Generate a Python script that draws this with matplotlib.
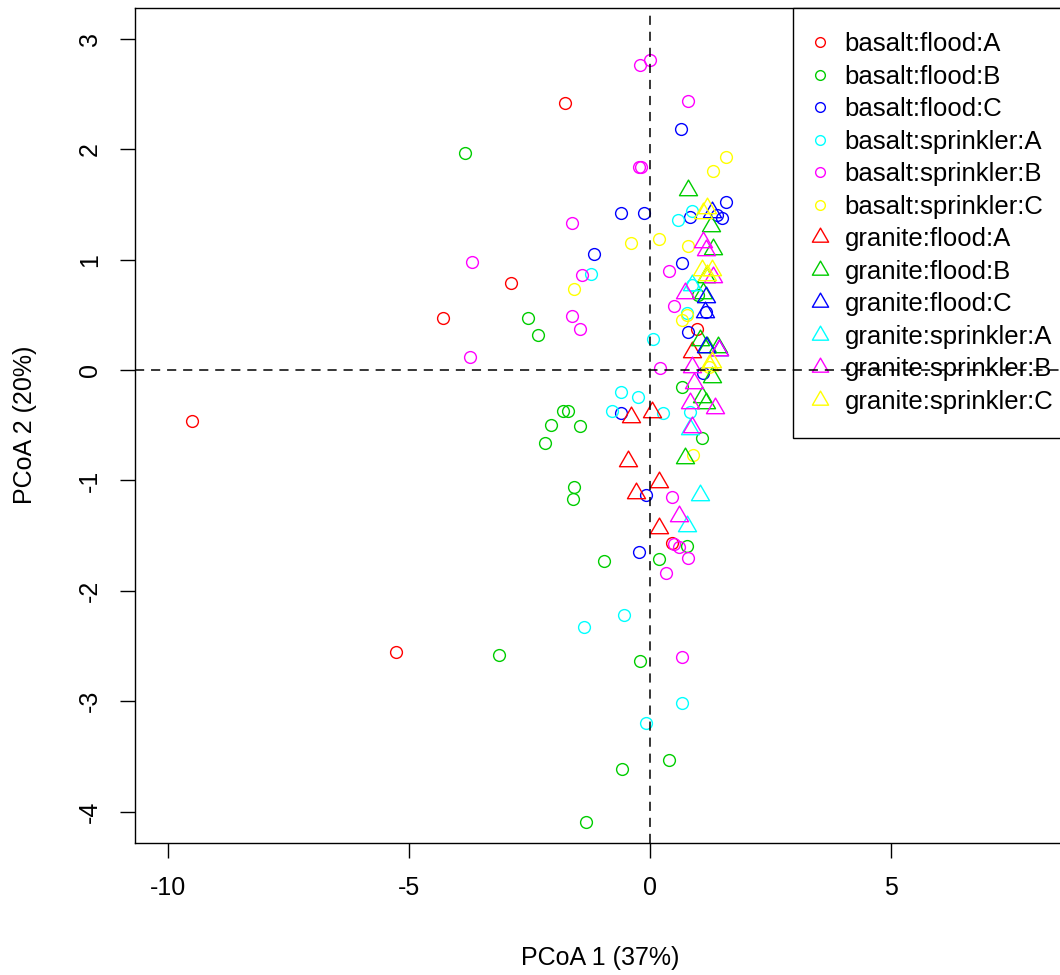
import matplotlib
matplotlib.use("Agg")
import matplotlib.pyplot as plt
from matplotlib.path import Path
from matplotlib.lines import Line2D

plt.rcParams['font.family'] = ['Liberation Sans', 'DejaVu Sans']
plt.rcParams['axes.unicode_minus'] = False

# PCoA scores per group
groups = ["basalt:flood:A", "basalt:flood:B", "basalt:flood:C",
          "basalt:sprinkler:A", "basalt:sprinkler:B", "basalt:sprinkler:C",
          "granite:flood:A", "granite:flood:B", "granite:flood:C",
          "granite:sprinkler:A", "granite:sprinkler:B", "granite:sprinkler:C"]
colors = ["#FF0000", "#00CD00", "#0000FF", "#00FFFF", "#FF00FF", "#FFFF00"] * 2

bf_a_x = [-1.76, -2.88, -4.29, -9.50, -5.27, 0.46, 0.98]
bf_a_y = [2.42, 0.79, 0.47, -0.46, -2.55, -1.57, 0.37]
bf_b_x = [-3.84, -2.53, -2.32, -1.80, -1.70, -2.05, -1.45, -2.18, -1.56, -1.60, -0.95,
          -3.13, -0.19, -0.58, 0.41, -1.31, 0.19, 0.77, 1.08, 0.68, 1.00]
bf_b_y = [1.97, 0.47, 0.32, -0.37, -0.37, -0.50, -0.51, -0.66, -1.06, -1.17, -1.73,
          -2.58, -2.64, -3.61, -3.53, -4.09, -1.71, -1.59, -0.62, -0.15, 0.68]
bf_c_x = [0.66, -0.60, -0.12, -1.16, 0.83, 1.58, 1.39, 1.51, 0.68, 0.79, 1.10, -0.60, -0.08, -0.23, 1.18]
bf_c_y = [2.18, 1.42, 1.42, 1.05, 1.39, 1.52, 1.40, 1.38, 0.97, 0.34, -0.03, -0.39, -1.13, -1.65, 0.53]
bs_a_x = [0.87, 0.58, -1.22, 0.08, -0.60, -0.25, -0.79, -0.54, -1.37, 0.27, 0.68, -0.08, 0.89, 0.77, 0.83]
bs_a_y = [1.44, 1.36, 0.87, 0.28, -0.20, -0.24, -0.37, -2.22, -2.33, -0.39, -3.02, -3.20, 0.77, 0.52, -0.38]
bs_b_x = [-0.19, 0.00, 0.79, -0.21, -0.18, -1.62, -3.69, -1.41, -1.62, -1.45, -3.73,
          0.41, 0.50, 0.21, 0.46, 0.50, 0.62, 0.79, 0.33, 0.68]
bs_b_y = [2.76, 2.81, 2.44, 1.84, 1.84, 1.33, 0.98, 0.86, 0.49, 0.37, 0.12,
          0.90, 0.58, 0.02, -1.15, -1.58, -1.60, -1.70, -1.84, -2.60]
bs_c_x = [1.58, 1.31, -0.39, 0.19, 0.79, -1.56, 0.68, 0.77, 0.91, 1.24]
bs_c_y = [1.93, 1.80, 1.15, 1.19, 1.12, 0.73, 0.45, 0.50, -0.77, 0.03]
gf_a_x = [-0.39, 0.04, -0.44, -0.29, 0.19, 0.19, 0.89]
gf_a_y = [-0.43, -0.38, -0.82, -1.11, -1.01, -1.43, 0.16]
gf_b_x = [0.79, 1.27, 1.31, 1.18, 1.41, 1.29, 1.08, 1.18, 0.73, 1.10, 1.04, 1.20]
gf_b_y = [1.63, 1.30, 1.10, 0.84, 0.21, -0.06, -0.24, -0.30, -0.80, 0.70, 0.27, 0.21]
gf_c_x = [1.29, 1.18, 1.14, 1.18, 1.45]
gf_c_y = [1.43, 0.66, 0.53, 0.21, 0.18]
gs_a_x = [1.04, 0.77, 0.83, 0.89]
gs_a_y = [-1.13, -1.41, -0.53, 0.77]
gs_b_x = [1.10, 1.16, 0.73, 1.31, 1.45, 0.87, 0.83, 1.35, 0.87, 0.62, 0.93]
gs_b_y = [1.16, 1.09, 0.70, 0.84, 0.18, 0.03, -0.30, -0.34, -0.52, -1.32, -0.12]
gs_c_x = [1.20, 1.10, 1.08, 1.29, 1.20, 1.29, 1.24]
gs_c_y = [1.47, 1.42, 0.91, 0.91, 0.86, 0.07, 0.05]

xs = [bf_a_x, bf_b_x, bf_c_x, bs_a_x, bs_b_x, bs_c_x, gf_a_x, gf_b_x, gf_c_x, gs_a_x, gs_b_x, gs_c_x]
ys = [bf_a_y, bf_b_y, bf_c_y, bs_a_y, bs_b_y, bs_c_y, gf_a_y, gf_b_y, gf_c_y, gs_a_y, gs_b_y, gs_c_y]

# R-style triangle (pch 2), centred on the circumcentre
tri = Path([(0, 1), (0.866, -0.5), (-0.866, -0.5), (0, 1)],
           [Path.MOVETO, Path.LINETO, Path.LINETO, Path.CLOSEPOLY])

fig = plt.figure(figsize=(10.6, 9.75), dpi=100)
ax = fig.add_axes([135 / 1060, 1 - 843 / 975, 929 / 1060, 835 / 975])

handles = []
for i, name in enumerate(groups):
    mk = 'o' if i < 6 else tri
    ms = 8.5 if i < 6 else 15
    ax.plot(xs[i], ys[i], linestyle='none', marker=mk, markersize=ms,
            markerfacecolor='none', markeredgecolor=colors[i], markeredgewidth=1.0,
            clip_on=False, zorder=3)
    handles.append(Line2D([], [], linestyle='none', marker=mk, markersize=ms - 1.5,
                          markerfacecolor='none', markeredgecolor=colors[i],
                          markeredgewidth=1.0, label=name))

ax.set_xlim(-10.68, 8.6)
ax.set_ylim(-4.284, 3.279)
ax.set_xticks([-10, -5, 0, 5])
ax.set_yticks([-4, -3, -2, -1, 0, 1, 2, 3])
ax.tick_params(direction='out', length=11, width=1.0, labelsize=18, pad=13, colors='black')
for lab in ax.get_yticklabels():
    lab.set_rotation(90)
    lab.set_va('center')
for s in ax.spines.values():
    s.set_linewidth(1.0)

ax.axvline(0, color='black', linewidth=1.1, dashes=(6, 4.5), zorder=6)
ax.axhline(0, color='black', linewidth=1.1, dashes=(6, 4.5), zorder=6)

leg = ax.legend(handles=handles, loc='upper left', bbox_to_anchor=(793 / 1060, 1 - 8 / 975),
                bbox_transform=fig.transFigure, prop={'size': 18.5}, frameon=True, fancybox=False,
                framealpha=1, edgecolor='black', borderpad=0.95, handlelength=0.2,
                handletextpad=0.85, labelspacing=0.33, borderaxespad=0)
leg.get_frame().set_linewidth(1.0)
leg.set_zorder(5)

fig.text(600 / 1060, 1 - 958 / 975, "PCoA 1 (37%)", ha='center', va='center', fontsize=18)
fig.text(25 / 1060, 1 - 425 / 975, "PCoA 2 (20%)", ha='center', va='center',
         rotation=90, fontsize=18)

fig.savefig("out.png", dpi=100)
